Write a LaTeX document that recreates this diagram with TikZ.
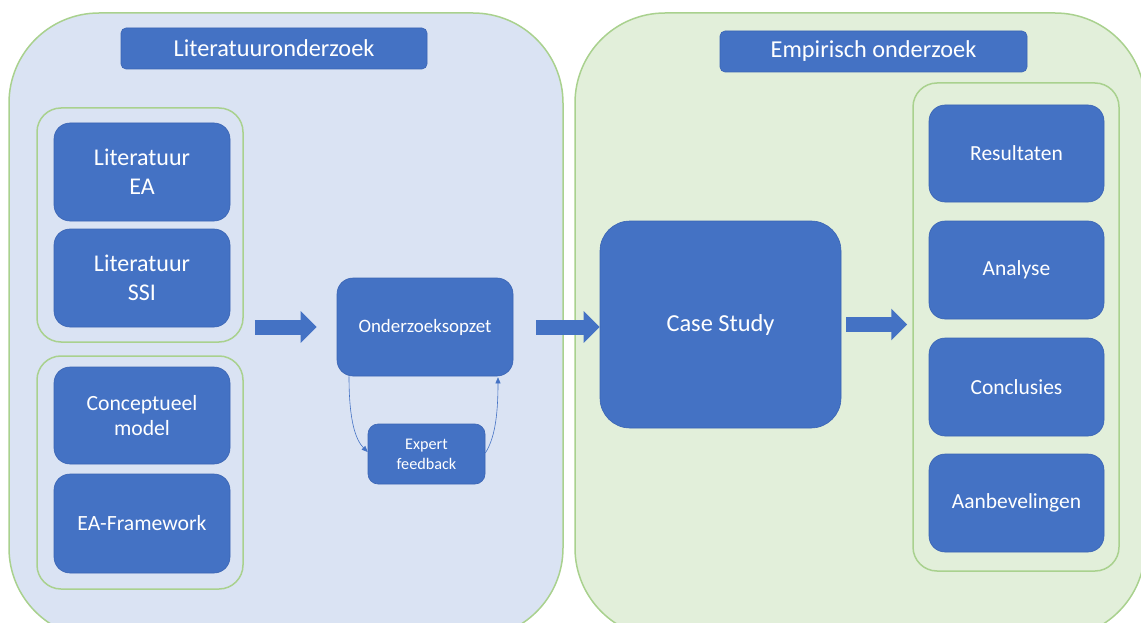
\documentclass[tikz,border=0pt]{standalone}
\usepackage{fontspec}
\setmainfont{Carlito}
\usetikzlibrary{arrows.meta}
\definecolor{boxblue}{HTML}{4472C4}
\definecolor{boxedge}{HTML}{3B65B4}
\definecolor{panelblue}{HTML}{DAE3F3}
\definecolor{panelgreen}{HTML}{E2EFDA}
\definecolor{edgegreen}{HTML}{A9D18E}

\begin{document}
\begin{tikzpicture}[x=1pt,y=-1pt,
  panel/.style={draw=edgegreen,line width=1.5pt,rounded corners=90pt},
  group/.style={draw=edgegreen,line width=1.5pt,rounded corners=24pt,minimum width=206pt,inner sep=0pt},
  blk/.style={draw=boxedge,fill=boxblue,text=white,line width=0.6pt,rounded corners=16pt,
    minimum width=176pt,minimum height=98pt,align=center,inner sep=0pt},
  ttl/.style={blk,rounded corners=5pt,minimum height=41pt,font=\fontsize{24.3}{29}\selectfont},
  barrow/.style={boxblue,line width=15pt,-{Triangle[length=16pt,width=31pt]}},
  fb/.style={boxblue,line width=0.6pt,-{Triangle[length=6pt,width=5pt]}}]
\useasboundingbox (0,0) rectangle (1141,623);
\clip (0,0) rectangle (1141,623);

\draw[panel,fill=panelblue] (9,13) rectangle (563,638);
\draw[panel,fill=panelgreen] (575,13) rectangle (1145,638);

\node[ttl,minimum width=306pt] (ttlL) at (274,48.5) {Literatuuronderzoek};
\node[ttl,minimum width=307pt] (ttlR) at (873.5,51.5) {Empirisch onderzoek};

\node[group,minimum height=234pt] (grpA) at (140,225) {};
\node[group,minimum height=233pt] (grpB) at (140,472.5) {};
\node[group,minimum height=488pt] (grpC) at (1016,327) {};

\node[blk,font=\fontsize{24}{29}\selectfont] (litEA) at (142,172) {Literatuur\\EA};
\node[blk,font=\fontsize{24}{29}\selectfont] (litSSI) at (142,278) {Literatuur\\SSI};
\node[blk,minimum height=97pt,font=\fontsize{21.7}{25}\selectfont] (concept) at (142,415.5) {Conceptueel\\model};
\node[blk,minimum height=99pt,font=\fontsize{21.7}{25}\selectfont] (eafw) at (142,523.5) {EA-Framework};

\node[blk,font=\fontsize{18.9}{23}\selectfont] (opzet) at (425,327) {Onderzoeksopzet};
\node[blk,minimum width=117pt,minimum height=60pt,rounded corners=10pt,
  font=\fontsize{16.2}{20}\selectfont] (expert) at (426.5,454) {Expert\\feedback};

\node[blk,minimum width=241pt,minimum height=207pt,rounded corners=30pt,
  font=\fontsize{24.4}{29}\selectfont] (case) at (720.5,324.5) {Case Study};

\node[blk,minimum width=175pt,minimum height=97pt,font=\fontsize{21.5}{26}\selectfont] (res) at (1016.5,153.5) {Resultaten};
\node[blk,minimum width=175pt,font=\fontsize{21.5}{26}\selectfont] (ana) at (1016.5,270) {Analyse};
\node[blk,minimum width=175pt,font=\fontsize{21.5}{26}\selectfont] (concl) at (1016.5,387) {Conclusies};
\node[blk,minimum width=175pt,font=\fontsize{21.5}{26}\selectfont] (aanb) at (1016.5,503) {Aanbevelingen};

\draw[barrow] ([xshift=11pt]grpA.east |- opzet.west) -- ([xshift=-20pt]opzet.west);
\draw[barrow] ([xshift=23pt]opzet.east) -- (case.west |- opzet.east);
\draw[barrow] ([xshift=5pt]case.east) -- ([xshift=-5pt]grpC.west |- case.east);

\draw[fb] ([xshift=-76pt]opzet.south) .. controls +(0,45) and +(-12,-12) .. ([yshift=2pt]expert.west);
\draw[fb] ([yshift=1pt]expert.east) .. controls +(9,-14) and +(0,40) .. ([xshift=73pt,yshift=-1pt]opzet.south);

\end{tikzpicture}
\end{document}
